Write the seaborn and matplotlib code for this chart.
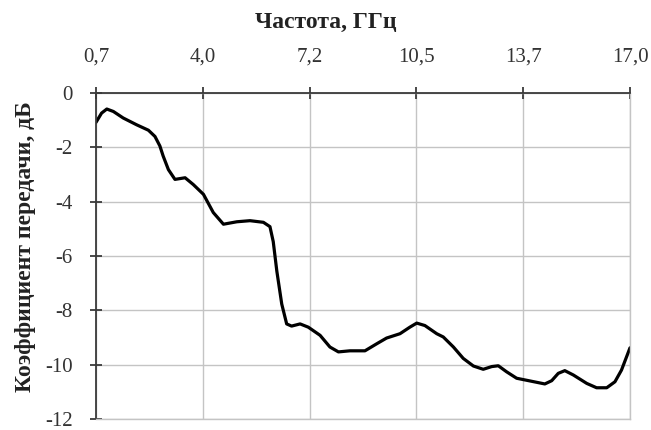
import numpy as np
import matplotlib
matplotlib.use("Agg")
import matplotlib.pyplot as plt
import seaborn as sns

# Measured transmission coefficient versus frequency
freq_ghz = [0.70, 0.87, 1.03, 1.23, 1.53, 1.94, 2.30, 2.50, 2.65, 2.75, 2.91, 3.11,
            3.42, 3.67, 3.98, 4.28, 4.59, 5.00, 5.40, 5.81, 6.01, 6.11, 6.22, 6.37,
            6.52, 6.67, 6.93, 7.18, 7.54, 7.84, 8.10, 8.45, 8.91, 9.27, 9.57, 9.98,
            10.28, 10.49, 10.74, 11.10, 11.30, 11.61, 11.91, 12.22, 12.52, 12.78,
            12.98, 13.23, 13.54, 13.95, 14.40, 14.61, 14.81, 15.01, 15.27, 15.68,
            15.98, 16.29, 16.54, 16.74, 17.00]
gain_db = [-1.08, -0.74, -0.59, -0.68, -0.92, -1.17, -1.37, -1.60, -1.95, -2.32,
           -2.82, -3.18, -3.12, -3.37, -3.73, -4.40, -4.83, -4.74, -4.70, -4.76,
           -4.92, -5.47, -6.56, -7.77, -8.50, -8.58, -8.50, -8.62, -8.92, -9.35,
           -9.53, -9.49, -9.49, -9.23, -9.02, -8.86, -8.62, -8.47, -8.56, -8.86,
           -8.98, -9.35, -9.77, -10.05, -10.17, -10.07, -10.04, -10.26, -10.50,
           -10.60, -10.71, -10.59, -10.32, -10.22, -10.38, -10.69, -10.85, -10.85,
           -10.63, -10.20, -9.38]

x_ticks = [0.70, 3.96, 7.22, 10.48, 13.74, 17.00]
x_tick_labels = ["0,7", "4,0", "7,2", "10,5", "13,7", "17,0"]
y_ticks = [0, -2, -4, -6, -8, -10, -12]
y_tick_labels = ["0", "-2", "-4", "-6", "-8", "-10", "-12"]

sns.set_theme(style="white")
plt.rcParams["font.family"] = ["Liberation Serif", "DejaVu Serif"]

W, H = 651, 430
left, right, top, bottom = 96, 630, 93, 419
fig = plt.figure(figsize=(W / 100, H / 100), dpi=100)
ax = fig.add_axes([left / W, 1 - bottom / H, (right - left) / W, (bottom - top) / H])

sns.lineplot(x=freq_ghz, y=gain_db, ax=ax, color="black", linewidth=2.3,
             estimator=None, sort=False)
for line in ax.lines:
    line.set_solid_joinstyle("round")
    line.set_solid_capstyle("round")

ax.set_xlim(0.7, 17.0)
ax.set_ylim(-12, 0)

ax.xaxis.tick_top()
ax.xaxis.set_label_position("top")
ax.set_xticks(x_ticks)
ax.set_xticklabels(x_tick_labels)
ax.set_yticks(y_ticks)
ax.set_yticklabels(y_tick_labels)

grid_col = "#c4c4c4"
ax.grid(True, color=grid_col, linewidth=1.0)
ax.set_axisbelow(True)

axis_col = "#3a3a3a"
for side in ("top", "left"):
    ax.spines[side].set_color(axis_col)
    ax.spines[side].set_linewidth(1.3)
for side in ("bottom", "right"):
    ax.spines[side].set_color(grid_col)
    ax.spines[side].set_linewidth(1.0)

ax.tick_params(axis="x", which="major", top=True, bottom=False, direction="inout",
               length=8, width=1.3, color=axis_col, pad=15,
               labelsize=15, labelcolor="#333333")
ax.tick_params(axis="y", which="major", left=True, direction="inout",
               length=8, width=1.3, color=axis_col, pad=13,
               labelsize=15, labelcolor="#333333")

ax.set_xlabel("Частота, ГГц", fontsize=17, fontweight="bold", color="#222222",
              labelpad=14)
ax.xaxis.label.set_x((W / 2 - left) / (right - left))
ax.set_ylabel("Коэффициент передачи, дБ", fontsize=17, fontweight="bold",
              color="#222222", labelpad=6)
ax.yaxis.label.set_y((bottom - 247) / (bottom - top))

fig.savefig("out.png", dpi=100)
